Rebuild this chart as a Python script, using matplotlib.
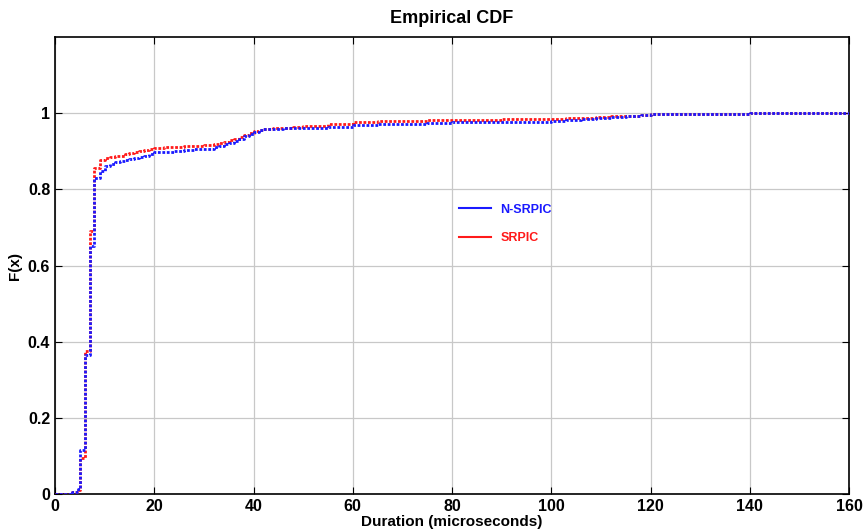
import numpy as np
import matplotlib
matplotlib.use('Agg')
import matplotlib.pyplot as plt

# puntos de la escalera (x, F(x))
dur_x = [0, 3.5, 4.6, 5.0, 6.0, 7.0, 7.9, 9, 10, 11, 12, 13, 14, 15, 16, 17, 18,
         19, 20, 22, 24, 26, 28, 30, 32, 33, 34, 35, 36, 37, 38, 39, 40, 41, 42,
         44, 46, 48, 50, 55, 60, 65, 70, 75, 80, 85, 90, 95, 100, 103, 106, 109,
         112, 115, 118, 120, 125, 130, 140, 160]
nsrpic_y = [0, 0.005, 0.012, 0.115, 0.365, 0.65, 0.83, 0.848, 0.862, 0.867, 0.871,
            0.874, 0.877, 0.880, 0.883, 0.886, 0.889, 0.893, 0.897, 0.899, 0.901,
            0.903, 0.905, 0.907, 0.911, 0.914, 0.918, 0.922, 0.927, 0.933, 0.940,
            0.946, 0.951, 0.955, 0.958, 0.959, 0.960, 0.961, 0.962, 0.965, 0.970,
            0.972, 0.973, 0.975, 0.976, 0.977, 0.977, 0.978, 0.980, 0.982, 0.985,
            0.988, 0.991, 0.993, 0.996, 0.997, 0.998, 0.999, 1.0, 1.0]
srpic_y = [0, 0.004, 0.010, 0.095, 0.375, 0.69, 0.855, 0.878, 0.882, 0.885, 0.887,
           0.889, 0.892, 0.895, 0.898, 0.901, 0.903, 0.906, 0.909, 0.911, 0.912,
           0.913, 0.915, 0.917, 0.920, 0.922, 0.925, 0.929, 0.933, 0.938, 0.943,
           0.949, 0.954, 0.957, 0.959, 0.960, 0.961, 0.963, 0.966, 0.971, 0.977,
           0.979, 0.980, 0.981, 0.982, 0.983, 0.984, 0.985, 0.986, 0.987, 0.988,
           0.990, 0.992, 0.994, 0.996, 0.997, 0.998, 0.999, 1.0, 1.0]

x_ticks = [0, 20, 40, 60, 80, 100, 120, 140, 160]
y_ticks = [0, 0.2, 0.4, 0.6, 0.8, 1.0]
y_labels = ['0', '0.2', '0.4', '0.6', '0.8', '1']

plt.rcParams['font.family'] = ['Liberation Sans Narrow', 'Liberation Sans', 'DejaVu Sans']
plt.rcParams['font.weight'] = 'bold'

fig = plt.figure(figsize=(8.64, 5.30), dpi=100)
ax = fig.add_axes([0.0637, 0.068, 0.919, 0.862])

punteado = (0, (1.0, 0.6))
ax.step(dur_x, srpic_y, where='post', color='#ff1a1a', linestyle=punteado,
        linewidth=2.0, label='SRPIC', zorder=3)
ax.step(dur_x, nsrpic_y, where='post', color='#1a1aff', linestyle=punteado,
        linewidth=2.0, label='N-SRPIC', zorder=4)

ax.set_xlim(0, 160)
ax.set_ylim(0, 1.2)
ax.set_xticks(x_ticks)
ax.set_yticks(y_ticks)
ax.set_yticklabels(y_labels)
ax.grid(True, color='#c8c8c8', linewidth=0.9)
ax.tick_params(direction='in', top=True, right=True, labelsize=11.5, length=5)
for s in ax.spines.values():
    s.set_linewidth(1.2)

ax.set_title('Empirical CDF', fontsize=13, fontweight='bold', pad=10)
ax.set_xlabel('Duration (microseconds)', fontsize=11, fontweight='bold', labelpad=1)
ax.set_ylabel('F(x)', fontsize=11, fontweight='bold', labelpad=4)

handles, labels = ax.get_legend_handles_labels()
leg = ax.legend(handles[::-1], labels[::-1], loc='upper left',
                bbox_to_anchor=(0.495, 0.66), frameon=False,
                fontsize=9, handlelength=2.5, labelspacing=1.3)
for txt, ln in zip(leg.get_texts(), leg.get_lines()):
    txt.set_color(ln.get_color())
    ln.set_linestyle('-')
    ln.set_linewidth(1.5)

fig.savefig('out.png', dpi=100)
